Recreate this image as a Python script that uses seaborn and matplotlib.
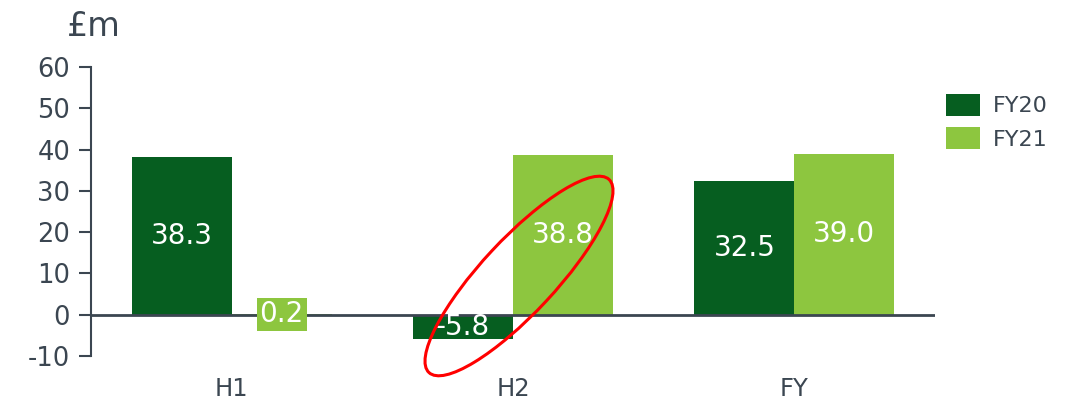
import matplotlib
matplotlib.use("Agg")
import matplotlib.pyplot as plt
from matplotlib.patches import Ellipse
from matplotlib.transforms import IdentityTransform
import seaborn as sns
import pandas as pd

# Profit by period, £m
periods = ["H1", "H2", "FY"]
fy20 = [38.3, -5.8, 32.5]
fy21 = [0.2, 38.8, 39.0]
years = ["FY20", "FY21"]
y_ticks = [-10, 0, 10, 20, 30, 40, 50, 60]

DARK = "#065e20"
LIGHT = "#8dc63f"
TEXT = "#3b4651"

df = pd.DataFrame({
    "period": periods * 2,
    "year": [years[0]] * 3 + [years[1]] * 3,
    "value": fy20 + fy21,
})

sns.set_theme(style="white")
plt.rcParams["font.family"] = ["DejaVu Sans"]

W, H = 1066, 401
fig = plt.figure(figsize=(W / 100, H / 100), dpi=100)
ax = fig.add_axes([91 / W, 1 - 356 / H, (935 - 91) / W, (356 - 67) / H])

sns.barplot(data=df, x="period", y="value", hue="year", order=periods,
            hue_order=years, palette=[DARK, LIGHT], saturation=1,
            width=0.71, gap=0, errorbar=None, ax=ax, legend=True,
            linewidth=0, edgecolor="none")

ax.set_xlim(-0.5, 2.5)
ax.set_ylim(-10, 60)
ax.set_yticks(y_ticks)
ax.set_yticklabels([str(t) for t in y_ticks])
ax.set_xlabel("")
ax.set_ylabel("")

for s in ["top", "right", "bottom"]:
    ax.spines[s].set_visible(False)
ax.spines["left"].set_color(TEXT)
ax.spines["left"].set_linewidth(1.5)
ax.axhline(0, color=TEXT, lw=2, zorder=3)

ax.tick_params(axis="y", which="both", left=True, length=9, width=1.5,
               color=TEXT, labelcolor=TEXT, labelsize=18.5, pad=6)
ax.tick_params(axis="x", bottom=False, labelcolor=TEXT, labelsize=17.5, pad=9)

# value labels centred in each bar
for container, color in zip(ax.containers, [DARK, LIGHT]):
    for bar in container:
        h = bar.get_height()
        cx = bar.get_x() + bar.get_width() / 2
        cy = bar.get_y() + h / 2
        kw = {}
        if abs(h) < 3:
            kw["bbox"] = dict(boxstyle="square,pad=0.1", fc=color, ec="none")
        ax.text(cx, cy, f"{h:.1f}", ha="center", va="center", color="white",
                fontsize=20, zorder=4, **kw)

leg = ax.legend(loc="upper left", bbox_to_anchor=(946 / W, 1 - 94 / H),
                bbox_transform=fig.transFigure, frameon=False, fontsize=16,
                handlelength=1.55, handleheight=1.12, handletextpad=0.55,
                labelspacing=0.5, borderpad=0, borderaxespad=0)
for t in leg.get_texts():
    t.set_color(TEXT)

fig.text(67 / W, 1 - 36 / H, "£m", fontsize=24, color=TEXT, va="baseline",
         ha="left")

# highlight around the H2 swing
fig.add_artist(Ellipse((519, H - 276), 264, 74, angle=47, fill=False,
                       ec="#ff0000", lw=2.2, transform=IdentityTransform()))

fig.savefig("out.png", dpi=100)
